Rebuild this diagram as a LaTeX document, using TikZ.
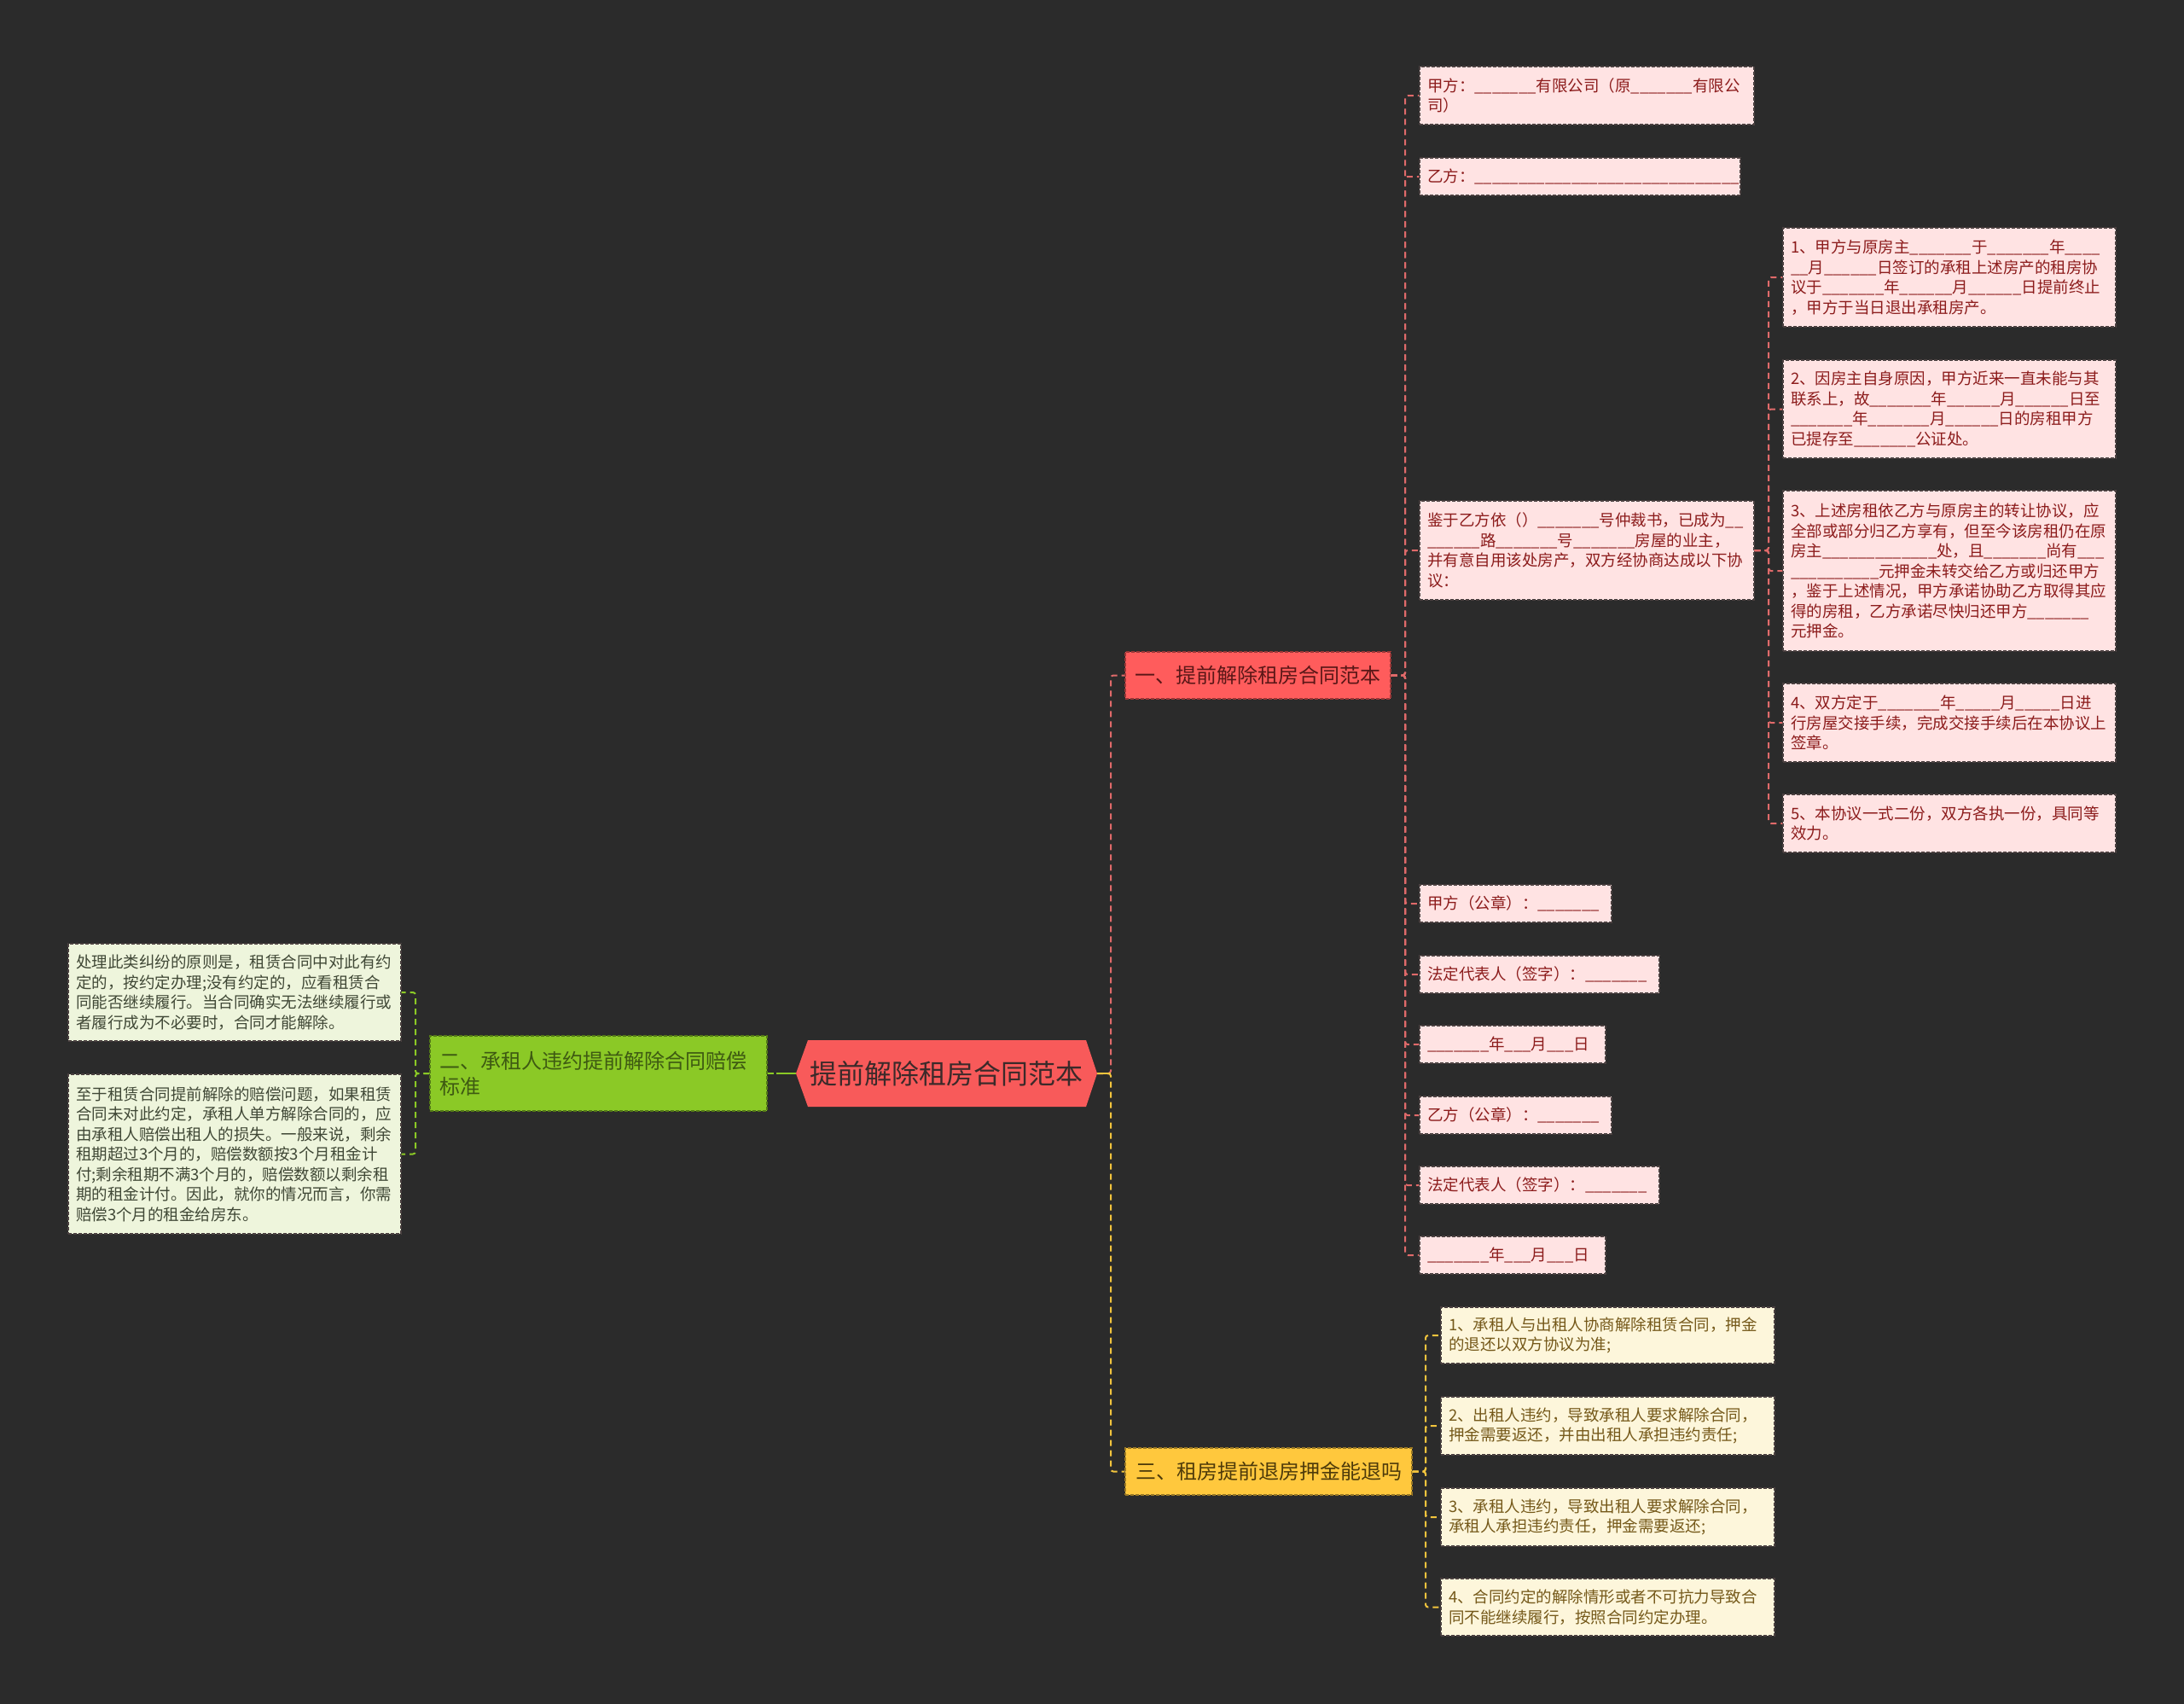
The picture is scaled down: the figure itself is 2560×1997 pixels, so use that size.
\documentclass[tikz,border=0pt]{standalone}
\usepackage{fontspec}
\setmainfont{Noto Sans CJK SC}
\usetikzlibrary{calc}
\ExplSyntaxOn
\cs_new:Npn \ublank #1 { \prg_replicate:nn {#1} {\textunderscore} }
\ExplSyntaxOff
\definecolor{bg}{HTML}{2B2B2B}
\definecolor{cfill}{HTML}{F85A5A}
\definecolor{ctext}{HTML}{3B2A2A}
\definecolor{rbfill}{HTML}{FF5C5C}
\definecolor{rbtext}{HTML}{5A1717}
\definecolor{rlfill}{HTML}{FFE3E3}
\definecolor{rltext}{HTML}{8C1C1C}
\definecolor{rline}{HTML}{E06A6A}
\definecolor{gbfill}{HTML}{8BC926}
\definecolor{gbtext}{HTML}{3E5A12}
\definecolor{glfill}{HTML}{EEF5DC}
\definecolor{gltext}{HTML}{404836}
\definecolor{gline}{HTML}{8BC926}
\definecolor{ybfill}{HTML}{FFC83D}
\definecolor{ybtext}{HTML}{4E3B0A}
\definecolor{ylfill}{HTML}{FDF6DB}
\definecolor{yltext}{HTML}{75591A}
\definecolor{yline}{HTML}{F2C43D}
\definecolor{edge}{HTML}{4A4040}
\tikzset{
  leafbox/.style={rectangle, inner xsep=9pt, inner ysep=0pt, align=left,
    draw=edge, line width=1.2pt, dash pattern=on 4pt off 2pt,
    font=\fontsize{18.5}{23.5}\selectfont},
  redleaf/.style={leafbox, fill=rlfill, text=rltext},
  greenleaf/.style={leafbox, fill=glfill, text=gltext},
  yellowleaf/.style={leafbox, fill=ylfill, text=yltext},
  branchbox/.style={rectangle, inner sep=0pt, line width=1.2pt,
    dash pattern=on 4pt off 2pt, font=\fontsize{24}{30}\selectfont},
  redbranch/.style={branchbox, fill=rbfill, draw=rbfill!60!black, text=rbtext},
  greenbranch/.style={branchbox, fill=gbfill, draw=gbfill!60!black, text=gbtext, align=left, inner xsep=11pt},
  yellowbranch/.style={branchbox, fill=ybfill, draw=ybfill!60!black, text=ybtext},
  centernode/.style={rectangle, inner sep=0pt, text=ctext, font=\fontsize{32}{38}\selectfont},
  conbase/.style={line width=2pt, dash pattern=on 7pt off 5pt, rounded corners=3pt},
  conR/.style={conbase, draw=rline},
  conG/.style={conbase, draw=gline},
  conY/.style={conbase, draw=yline},
  stub/.style={line width=2.5pt},
}
\begin{document}
\begin{tikzpicture}[x=1pt,y=-1pt]
\fill[bg] (0,0) rectangle (2560,1997);
\useasboundingbox (0,0) rectangle (2560,1997);

% center
\fill[cfill] (947,1219) -- (1273,1219) -- (1286,1258) -- (1273,1297) -- (947,1297) -- (933,1258) -- cycle;
\node[centernode, minimum width=353pt, minimum height=78pt] (c) at (1109.5,1258) {提前解除租房合同范本};

% branches
\node[redbranch, minimum width=311pt, minimum height=55pt] (br1) at (1474.5,791.5) {一、提前解除租房合同范本};
\node[greenbranch, text width=373pt, minimum height=88pt] (br2) at (701.5,1258) {二、承租人违约提前解除合同赔偿\\标准};
\node[yellowbranch, minimum width=336pt, minimum height=55pt] (br3) at (1487,1724.5) {三、租房提前退房押金能退吗};

% branch 1 children
\node[redleaf, text width=374pt, minimum height=68pt] (a1) at (1860,112) {甲方：\ublank{7}有限公司（原\ublank{7}有限公\\司）};
\node[redleaf, text width=358pt, minimum height=44pt] (a2) at (1852,207) {乙方：\ublank{30}};
\node[redleaf, text width=374pt, minimum height=116pt] (a3) at (1860,645) {鉴于乙方依（）\ublank{7}号仲裁书，已成为\ublank{2}\\\ublank{6}路\ublank{7}号\ublank{7}房屋的业主，\\并有意自用该处房产，双方经协商达成以下协\\议：};
\node[redleaf, text width=207pt, minimum height=44pt] (a4) at (1776.5,1059) {甲方（公章）：\ublank{7}};
\node[redleaf, text width=263pt, minimum height=44pt] (a5) at (1804.5,1142) {法定代表人（签字）：\ublank{7}};
\node[redleaf, text width=200pt, minimum height=44pt] (a6) at (1773,1224) {\ublank{7}年\ublank{3}月\ublank{3}日};
\node[redleaf, text width=207pt, minimum height=44pt] (a7) at (1776.5,1307) {乙方（公章）：\ublank{7}};
\node[redleaf, text width=263pt, minimum height=44pt] (a8) at (1804.5,1389) {法定代表人（签字）：\ublank{7}};
\node[redleaf, text width=200pt, minimum height=44pt] (a9) at (1773,1471) {\ublank{7}年\ublank{3}月\ublank{3}日};

% sub children of a3
\node[redleaf, text width=372pt, minimum height=116pt] (b1) at (2285,325) {1、甲方与原房主\ublank{7}于\ublank{7}年\ublank{4}\\\ublank{2}月\ublank{6}日签订的承租上述房产的租房协\\议于\ublank{7}年\ublank{6}月\ublank{6}日提前终止\\，甲方于当日退出承租房产。};
\node[redleaf, text width=372pt, minimum height=115pt] (b2) at (2285,479.5) {2、因房主自身原因，甲方近来一直未能与其\\联系上，故\ublank{7}年\ublank{6}月\ublank{6}日至\\\ublank{7}年\ublank{7}月\ublank{6}日的房租甲方\\已提存至\ublank{7}公证处。};
\node[redleaf, text width=372pt, minimum height=188pt] (b3) at (2285,669) {3、上述房租依乙方与原房主的转让协议，应\\全部或部分归乙方享有，但至今该房租仍在原\\房主\ublank{13}处，且\ublank{7}尚有\ublank{3}\\\ublank{10}元押金未转交给乙方或归还甲方\\，鉴于上述情况，甲方承诺协助乙方取得其应\\得的房租，乙方承诺尽快归还甲方\ublank{7}\\元押金。};
\node[redleaf, text width=372pt, minimum height=92pt] (b4) at (2285,847) {4、双方定于\ublank{7}年\ublank{5}月\ublank{5}日进\\行房屋交接手续，完成交接手续后在本协议上\\签章。};
\node[redleaf, text width=372pt, minimum height=68pt] (b5) at (2285,965) {5、本协议一式二份，双方各执一份，具同等\\效力。};

% branch 3 children
\node[yellowleaf, text width=373pt, minimum height=66pt] (c1) at (1884.5,1565) {1、承租人与出租人协商解除租赁合同，押金\\的退还以双方协议为准;};
\node[yellowleaf, text width=373pt, minimum height=68pt] (c2) at (1884.5,1671) {2、出租人违约，导致承租人要求解除合同，\\押金需要返还，并由出租人承担违约责任;};
\node[yellowleaf, text width=373pt, minimum height=68pt] (c3) at (1884.5,1778) {3、承租人违约，导致出租人要求解除合同，\\承租人承担违约责任，押金需要返还;};
\node[yellowleaf, text width=373pt, minimum height=67pt] (c4) at (1884.5,1883.5) {4、合同约定的解除情形或者不可抗力导致合\\同不能继续履行，按照合同约定办理。};

% branch 2 children
\node[greenleaf, text width=372pt, minimum height=114pt] (g1) at (275,1163) {处理此类纠纷的原则是，租赁合同中对此有约\\定的，按约定办理;没有约定的，应看租赁合\\同能否继续履行。当合同确实无法继续履行或\\者履行成为不必要时，合同才能解除。};
\node[greenleaf, text width=372pt, minimum height=187pt] (g2) at (275,1352.5) {至于租赁合同提前解除的赔偿问题，如果租赁\\合同未对此约定，承租人单方解除合同的，应\\由承租人赔偿出租人的损失。一般来说，剩余\\租期超过3个月的，赔偿数额按3个月租金计\\付;剩余租期不满3个月的，赔偿数额以剩余租\\期的租金计付。因此，就你的情况而言，你需\\赔偿3个月的租金给房东。};

% junctions
\coordinate (j0) at (1302,1258);
\coordinate (jg) at (487,1258);
\coordinate (jgs) at (910,1258);
\coordinate (j1) at (1647,791.5);
\coordinate (j2) at (2073,645);
\coordinate (j3) at (1671,1724.5);

% connectors
\draw[conR] (c.east) -- (j0) |- (br1.west);
\draw[conY] (c.east) -- (j0) |- (br3.west);
\draw[stub, draw=yline] (c.east) -- (j0);
\draw[conG] (br2.east) -- (jgs);
\draw[stub, draw=gline] (jgs) -- (c.west);
\foreach \n in {g1,g2} \draw[conG] (br2.west) -- (jg) |- (\n.east);
\foreach \n in {a1,a2,a3,a4,a5,a6,a7,a8,a9} \draw[conR] (br1.east) -- (j1) |- (\n.west);
\foreach \n in {b1,b2,b3,b4,b5} \draw[conR] (a3.east) -- (j2) |- (\n.west);
\foreach \n in {c1,c2,c3,c4} \draw[conY] (br3.east) -- (j3) |- (\n.west);
\end{tikzpicture}
\end{document}
